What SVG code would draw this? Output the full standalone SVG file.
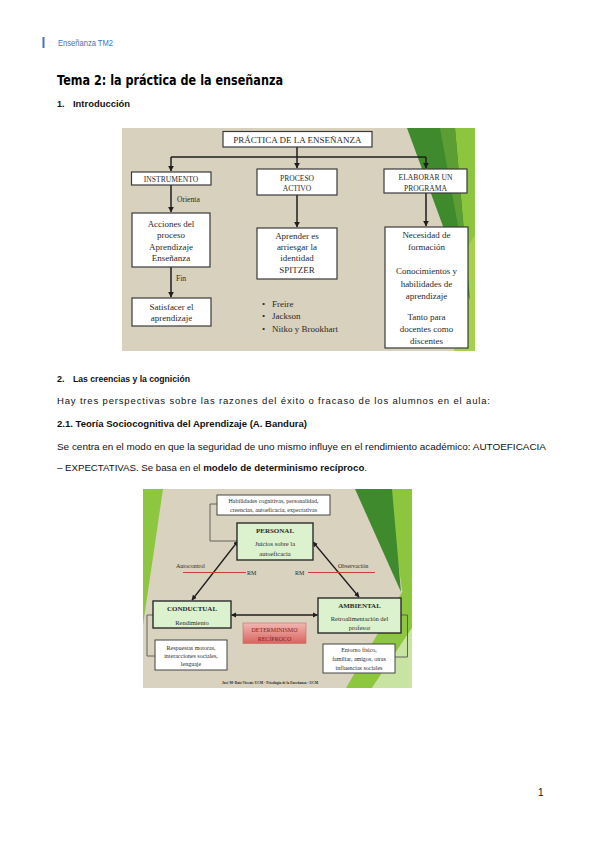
<svg xmlns="http://www.w3.org/2000/svg" width="599" height="848" viewBox="0 0 599 848">
<defs>
<style>
.doc{font-family:"Liberation Sans",Arial,sans-serif;fill:#111;font-size:9.5px}
.b{font-weight:bold}
.sr{font-family:"Liberation Serif","Times New Roman",serif;fill:#2a2a2a;text-anchor:middle}
.s9{font-size:9px}
.s8{font-size:7.6px}
.s6{font-size:6px}
.s7{font-size:7px}
.box{fill:#fff;stroke:#3a3a3a;stroke-width:1.2}
.gbox{fill:#dcf1cd;stroke:#2b2b2b;stroke-width:1.4}
.wbox{fill:#fff;stroke:#444;stroke-width:1}
.ln{stroke:#1e1e1e;stroke-width:1.5;fill:none}
.ln2{stroke:#1e1e1e;stroke-width:1.3;fill:none}
.thin{stroke:#555;stroke-width:0.9;fill:none}
.red{stroke:#c8403a;stroke-width:1;fill:none}
</style>
<marker id="ah" viewBox="0 0 10 10" refX="9" refY="5" markerWidth="4" markerHeight="4" orient="auto-start-reverse"><path d="M0,0 L10,5 L0,10 z" fill="#1e1e1e"/></marker>
<linearGradient id="redg" x1="0" y1="0" x2="0" y2="1"><stop offset="0" stop-color="#f2b7b3"/><stop offset="1" stop-color="#d8645e"/></linearGradient>
</defs>
<rect width="599" height="848" fill="#fff"/>

<!-- header -->
<g id="header">
<rect x="42.5" y="37" width="2" height="11" fill="#4472c4"/>
<text x="58" y="46" class="doc" style="fill:#4472c4;font-size:9.5px" textLength="55" lengthAdjust="spacingAndGlyphs">Enseñanza TM2</text>
<text x="57" y="85" style="font-family:'DejaVu Sans',sans-serif;font-size:13.5px;font-weight:bold;fill:#000" textLength="226" lengthAdjust="spacingAndGlyphs">Tema 2: la práctica de la enseñanza</text>
<text x="57" y="106.5" class="doc b" style="font-size:9px">1.</text>
<text x="73" y="106.5" class="doc b" style="font-size:9px" textLength="57" lengthAdjust="spacingAndGlyphs">Introducción</text>
</g>

<!-- diagram 1 background -->
<g id="diagram1-bg">
<rect x="122" y="128" width="353" height="223" fill="#d7d1bd"/>
<polygon points="452,128 475,128 475,351 458,351" fill="#8cc63f"/>
<polygon points="462,255 475,235 475,351 454,351" fill="#a5d24a"/>
<polygon points="407,128 455,128 470,300" fill="#3f8a2d"/>
<polygon points="440,128 455,128 468,280" fill="#5c9e33"/>
</g>

<g id="connectors1">
<path class="ln" d="M297,147 V168" marker-end="url(#ah)"/>
<path class="ln" d="M171,157 H426"/>
<path class="ln" d="M171,157 V171" marker-end="url(#ah)"/>
<path class="ln" d="M426,157 V168" marker-end="url(#ah)"/>
<path class="ln" d="M171,185 V212" marker-end="url(#ah)"/>
<path class="ln" d="M171,267 V297" marker-end="url(#ah)"/>
<path class="ln" d="M297,195 V227" marker-end="url(#ah)"/>
<path class="ln" d="M426,193 V226" marker-end="url(#ah)"/>
<text x="177" y="202" class="sr s8" style="text-anchor:start">Orienta</text>
<text x="176" y="281" class="sr s8" style="text-anchor:start">Fin</text>
</g>

<g id="n-practica">
<rect class="box" x="223" y="131.5" width="149" height="15.5"/>
<text x="297.5" y="143" class="sr s9">PRÁCTICA DE LA ENSEÑANZA</text>
</g>
<g id="n-instrumento">
<rect class="box" x="131.5" y="172" width="79.5" height="13"/>
<text x="171" y="181.5" class="sr s8">INSTRUMENTO</text>
</g>
<g id="n-proceso">
<rect class="box" x="257" y="169" width="80" height="26"/>
<text x="297" y="180.5" class="sr s8">PROCESO</text>
<text x="297" y="191" class="sr s8">ACTIVO</text>
</g>
<g id="n-elaborar">
<rect class="box" x="384" y="169" width="83" height="24"/>
<text x="425.5" y="180" class="sr s8">ELABORAR UN</text>
<text x="425.5" y="190.5" class="sr s8">PROGRAMA</text>
</g>
<g id="n-acciones">
<rect class="box" x="132" y="213" width="78" height="54"/>
<text x="171" y="227" class="sr s9">Acciones del</text>
<text x="171" y="238" class="sr s9">proceso</text>
<text x="171" y="249.5" class="sr s9">Aprendizaje</text>
<text x="171" y="261" class="sr s9">Enseñanza</text>
</g>
<g id="n-satisfacer">
<rect class="box" x="132" y="298" width="79" height="28"/>
<text x="171.5" y="310" class="sr s9">Satisfacer el</text>
<text x="171.5" y="321" class="sr s9">aprendizaje</text>
</g>
<g id="n-aprender">
<rect class="box" x="257" y="228" width="80" height="51"/>
<text x="297" y="238.5" class="sr s9">Aprender es</text>
<text x="297" y="249.5" class="sr s9">arriesgar la</text>
<text x="297" y="261" class="sr s9">identidad</text>
<text x="297" y="272.5" class="sr s9">SPITZER</text>
</g>
<g id="n-autores">
<text x="262" y="306.5" class="sr s9" style="text-anchor:start">•</text>
<text x="272" y="306.5" class="sr s9" style="text-anchor:start">Freire</text>
<text x="262" y="319" class="sr s9" style="text-anchor:start">•</text>
<text x="272" y="319" class="sr s9" style="text-anchor:start">Jackson</text>
<text x="262" y="331.5" class="sr s9" style="text-anchor:start">•</text>
<text x="272" y="331.5" class="sr s9" style="text-anchor:start">Nitko y Brookhart</text>
</g>
<g id="n-necesidad">
<rect class="box" x="385" y="227" width="83" height="121"/>
<text x="426.5" y="238" class="sr s9">Necesidad de</text>
<text x="426.5" y="250" class="sr s9">formación</text>
<text x="426.5" y="274" class="sr s9">Conocimientos y</text>
<text x="426.5" y="286.5" class="sr s9">habilidades de</text>
<text x="426.5" y="298.5" class="sr s9">aprendizaje</text>
<text x="426.5" y="319.5" class="sr s9">Tanto para</text>
<text x="426.5" y="332" class="sr s9">docentes como</text>
<text x="426.5" y="344" class="sr s9">discentes</text>
</g>

<!-- text section 2 -->
<g id="text2">
<text x="57" y="381.5" class="doc b" style="font-size:9px">2.</text>
<text x="73" y="381.5" class="doc b" style="font-size:9px" textLength="117" lengthAdjust="spacingAndGlyphs">Las creencias y la cognición</text>
<text x="57" y="404" class="doc" textLength="433" lengthAdjust="spacing">Hay tres perspectivas sobre las razones del éxito o fracaso de los alumnos en el aula:</text>
<text x="57" y="427" class="doc b" textLength="250" lengthAdjust="spacingAndGlyphs">2.1. Teoría Sociocognitiva del Aprendizaje (A. Bandura)</text>
<text x="57" y="449.5" class="doc" textLength="489" lengthAdjust="spacingAndGlyphs">Se centra en el modo en que la seguridad de uno mismo influye en el rendimiento académico: AUTOEFICACIA</text>
<text x="57" y="471" class="doc" textLength="310" lengthAdjust="spacingAndGlyphs">– EXPECTATIVAS. Se basa en el <tspan class="b">modelo de determinismo recíproco</tspan>.</text>
</g>

<!-- diagram 2 background -->
<g id="diagram2-bg">
<rect x="143" y="489" width="269" height="199" fill="#d8d2bf"/>
<polygon points="143,489 163,489 143,625" fill="#8dc63f"/>
<polygon points="388,489 412,489 412,605 402,590" fill="#8cc63f"/>
<polygon points="355,489 392,489 401,592" fill="#3f8a2d"/>
<polygon points="412,575 412,628 372,688 346,688" fill="#8dc63f"/>
<polygon points="412,628 412,688 372,688" fill="#c9e4a2"/>
</g>

<g id="connectors2">
<path class="thin" d="M217,504 H210 V541 H237"/>
<path class="thin" d="M153,615 H147 V656 H155"/>
<path class="thin" d="M401,615 H407.5 V657 H395"/>
<path class="ln2" d="M192,600 L238,541" marker-start="url(#ah)" marker-end="url(#ah)"/>
<path class="ln2" d="M313,542 L359,597" marker-start="url(#ah)" marker-end="url(#ah)"/>
<path class="ln2" d="M231.5,615 H317.5" marker-start="url(#ah)" marker-end="url(#ah)"/>
<path class="red" d="M183,572.5 H246"/>
<path class="red" d="M308,572.5 H375"/>
<text x="176" y="568" class="sr s6" style="text-anchor:start">Autocontrol</text>
<text x="247" y="575" class="sr s6" style="text-anchor:start">RM</text>
<text x="295" y="575" class="sr s6" style="text-anchor:start">RM</text>
<text x="338" y="568" class="sr s6" style="text-anchor:start">Observación</text>
</g>

<g id="n-habilidades">
<rect class="wbox" x="217" y="495" width="113" height="20"/>
<text x="273.5" y="502.5" class="sr s6">Habilidades cognitivas, personalidad,</text>
<text x="273.5" y="511.5" class="sr s6">creencias, autoeficacia, expectativas</text>
</g>
<g id="n-personal">
<rect class="gbox" x="237" y="523" width="76" height="37"/>
<text x="275" y="533" class="sr s7" style="font-weight:bold">PERSONAL</text>
<text x="275" y="545.5" class="sr s6" style="font-size:6.5px">Juicios sobre la</text>
<text x="275" y="555.5" class="sr s6" style="font-size:6.5px">autoeficacia</text>
</g>
<g id="n-conductual">
<rect class="gbox" x="153" y="601" width="78" height="27"/>
<text x="192" y="611" class="sr s7" style="font-weight:bold">CONDUCTUAL</text>
<text x="192" y="624.5" class="sr s6" style="font-size:6.5px">Rendimiento</text>
</g>
<g id="n-ambiental">
<rect class="gbox" x="318" y="598" width="83" height="35"/>
<text x="359.5" y="608" class="sr s7" style="font-weight:bold">AMBIENTAL</text>
<text x="359.5" y="621" class="sr s6" style="font-size:6.5px">Retroalimentación del</text>
<text x="359.5" y="630" class="sr s6" style="font-size:6.5px">profesor</text>
</g>
<g id="n-determinismo">
<rect x="243" y="623" width="63" height="20.5" fill="url(#redg)" stroke="#c96a64" stroke-width="0.6"/>
<text x="274.5" y="632" class="sr s6" style="fill:#8a1c1c">DETERMINISMO</text>
<text x="274.5" y="640.5" class="sr s6" style="fill:#8a1c1c">RECÍPROCO</text>
</g>
<g id="n-respuestas">
<rect class="wbox" x="155" y="640" width="72" height="30"/>
<text x="191" y="649.5" class="sr s6">Respuestas motoras,</text>
<text x="191" y="658" class="sr s6">interacciones sociales,</text>
<text x="191" y="666" class="sr s6">lenguaje</text>
</g>
<g id="n-entorno">
<rect class="wbox" x="323" y="644" width="72" height="29"/>
<text x="359" y="652" class="sr s6">Entorno físico,</text>
<text x="359" y="661" class="sr s6">familiar, amigos, otras</text>
<text x="359" y="669.5" class="sr s6">influencias sociales</text>
</g>
<text x="222" y="684" class="sr" style="text-anchor:start;font-size:3.8px;font-weight:bold" textLength="96" lengthAdjust="spacingAndGlyphs">José Mª Ruiz Vicente UCM - Psicología de la Enseñanza - UCM</text>

<text x="538" y="796" class="doc" style="font-size:10px">1</text>
</svg>
